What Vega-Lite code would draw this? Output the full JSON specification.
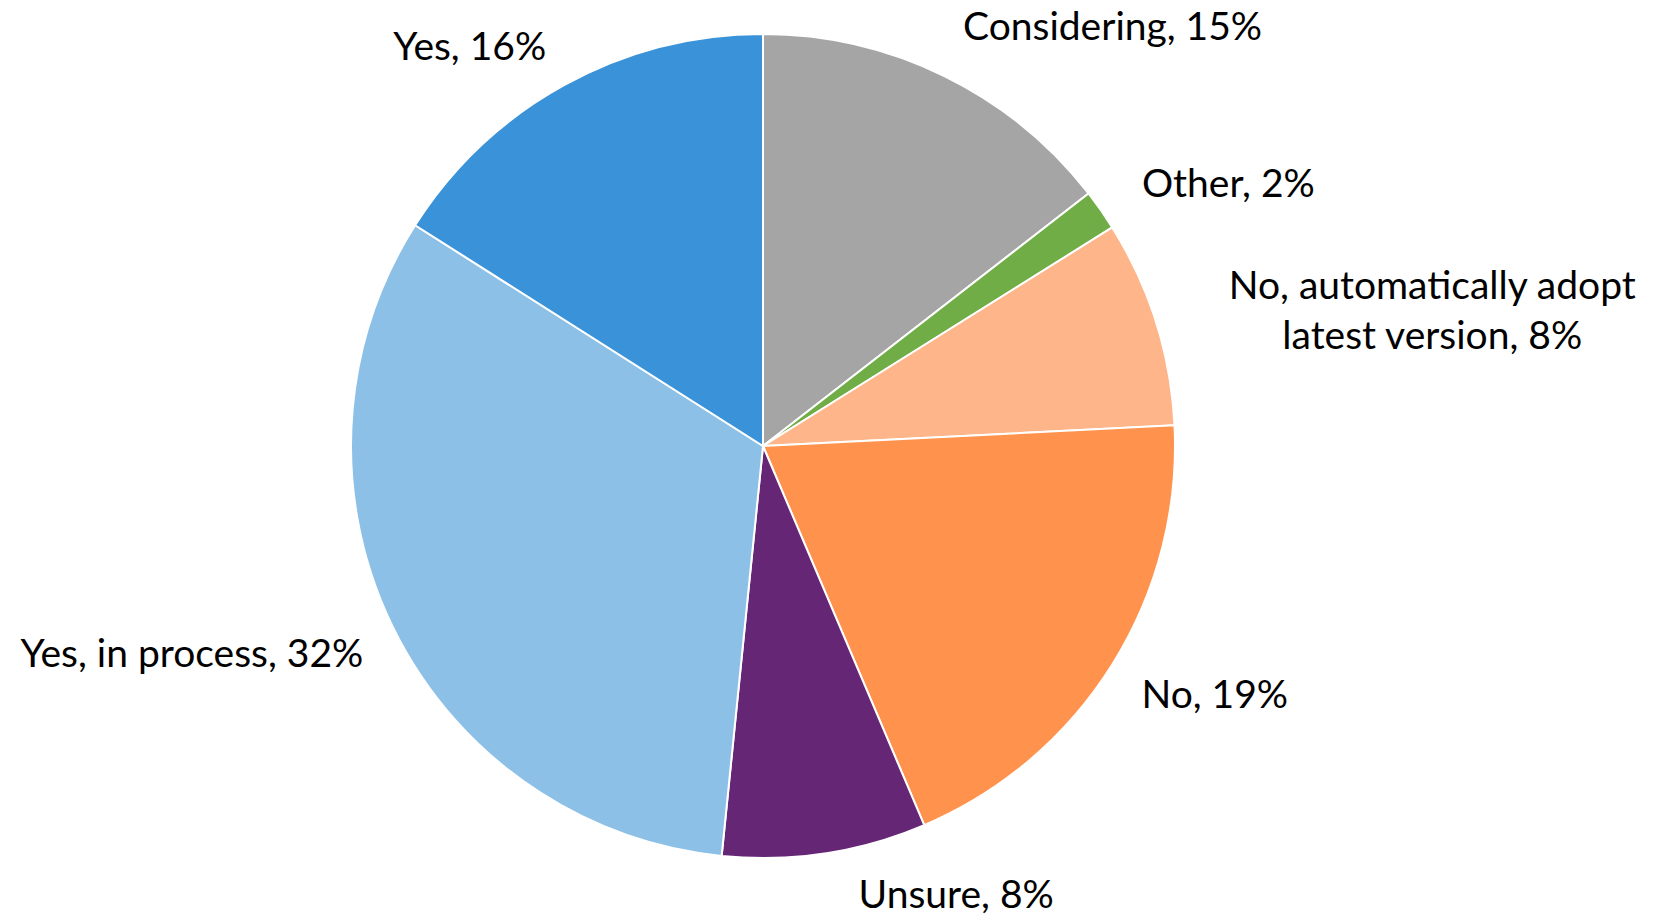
{
  "$schema": "https://vega.github.io/schema/vega-lite/v6.json",
  "width": 1526,
  "height": 892,
  "autosize": {"type": "none"},
  "padding": {"left": 0, "top": 0, "right": 127, "bottom": 24},
  "background": "white",
  "config": {"view": {"stroke": null}, "text": {"font": "Lato", "fontSize": 39, "color": "black", "baseline": "middle", "radius": 450}},
  "data": {
    "values": [
      {"category": "Considering", "value": 14.5, "label": "Considering, 15%", "order": 1},
      {"category": "Other", "value": 1.6, "label": "Other, 2%", "order": 2},
      {"category": "No, automatically adopt latest version", "value": 8.1, "label": "No, automatically adopt\nlatest version, 8%", "order": 3},
      {"category": "No", "value": 19.4, "label": "No, 19%", "order": 4},
      {"category": "Unsure", "value": 8.0, "label": "Unsure, 8%", "order": 5},
      {"category": "Yes, in process", "value": 32.4, "label": "Yes, in process, 32%", "order": 6},
      {"category": "Yes", "value": 16.0, "label": "Yes, 16%", "order": 7}
    ]
  },
  "transform": [
    {"stack": "value", "groupby": [], "sort": [{"field": "order"}], "as": ["v0", "v1"]},
    {"calculate": "(datum.v0 + datum.v1) / 2", "as": "mid"}
  ],
  "encoding": {
    "theta": {"field": "mid", "type": "quantitative", "scale": {"domain": [0, 100]}},
    "text": {"field": "label"}
  },
  "layer": [
    {
      "mark": {"type": "arc", "outerRadius": 412, "stroke": "white", "strokeWidth": 2},
      "encoding": {
        "theta": {"field": "v0", "type": "quantitative", "scale": {"domain": [0, 100]}},
        "theta2": {"field": "v1"},
        "text": null,
        "color": {
          "field": "category",
          "type": "nominal",
          "legend": null,
          "scale": {
            "domain": ["Considering", "Other", "No, automatically adopt latest version", "No", "Unsure", "Yes, in process", "Yes"],
            "range": ["#A5A5A5", "#70AD47", "#FFB58A", "#FF924C", "#652676", "#8DC0E6", "#3A92D8"]
          }
        }
      }
    },
    {
      "transform": [{"filter": "datum.category === 'Considering'"}],
      "mark": {"type": "text", "align": "left", "dx": 2, "dy": -14}
    },
    {
      "transform": [{"filter": "datum.category === 'Other'"}],
      "mark": {"type": "text", "align": "left", "dx": 10, "dy": -3}
    },
    {
      "transform": [{"filter": "datum.category === 'No, automatically adopt latest version'"}],
      "mark": {"type": "text", "align": "center", "dx": 240, "dy": -24, "lineBreak": "\n", "lineHeight": 50}
    },
    {
      "transform": [{"filter": "datum.category === 'No'"}],
      "mark": {"type": "text", "align": "left", "dx": -3, "dy": 11}
    },
    {
      "transform": [{"filter": "datum.category === 'Unsure'"}],
      "mark": {"type": "text", "align": "left", "dx": 28, "dy": 5}
    },
    {
      "transform": [{"filter": "datum.category === 'Yes, in process'"}],
      "mark": {"type": "text", "align": "right", "dx": 5, "dy": 12}
    },
    {
      "transform": [{"filter": "datum.category === 'Yes'"}],
      "mark": {"type": "text", "align": "right", "dx": 0, "dy": -4}
    }
  ]
}
